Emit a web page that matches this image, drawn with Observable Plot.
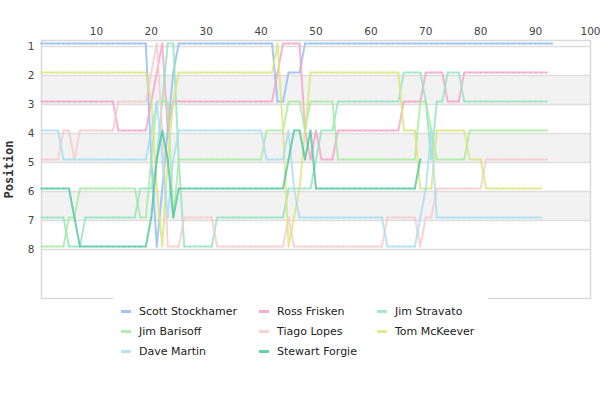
<!DOCTYPE html>
<html>
<head>
<meta charset="utf-8">
<script src="https://cdn.jsdelivr.net/npm/d3@7"></script>
<script src="https://cdn.jsdelivr.net/npm/@observablehq/plot@0.6"></script>
<style>
  body { margin: 0; background: #fff; font-family: "DejaVu Sans", sans-serif; }
  #chart { width: 600px; }
  .legend {
    position: relative; margin-top: -4px; margin-left: 113px; width: 375px;
    background: #fff; padding: 5px 0 4px 8px; box-sizing: border-box;
    display: grid; grid-template-columns: 138px 118px auto; grid-auto-rows: 20px;
    font-size: 11px; color: #222;
  }
  .legend .item { display: flex; align-items: center; white-space: nowrap; }
  .legend .sw { width: 10px; height: 3px; margin-right: 8px; opacity: 0.85; }
</style>
</head>
<body>
<div id="chart"></div>
<script>
const drivers = ["Scott Stockhamer", "Ross Frisken", "Jim Stravato", "Jim Barisoff", "Tiago Lopes", "Tom McKeever", "Dave Martin", "Stewart Forgie"];
const colors = ["#8fbbef", "#f2a2c8", "#92e4c2", "#a6eb9e", "#f8c9c9", "#dbe57c", "#a9ddf1", "#4fc69e"];

// Position per lap, starting at lap 0
const scott = [1,1,1,1,1,1,1,1,1,1, 1,1,1,1,1,1,1,1,1,1, 5,8,6,4,2, 1,1,1,1,1,1,1,1,1,1,1,1,1,1,1,1,1,1, 3,3,2,2,2,
  1,1,1,1,1,1,1,1,1,1, 1,1,1,1,1,1,1,1,1,1, 1,1,1,1,1,1,1,1,1,1, 1,1,1,1,1,1,1,1,1,1, 1,1,1,1,1,1];
const ross = [3,3,3,3,3,3,3,3,3,3,3,3,3,3, 4,4,4,4,4,4, 3,2,1,4,3, 3,3,3,3,3,3,3,3,3,3,3,3,3,3,3,3,3,3, 2, 1,1,1,1,
  4,5,4, 5,5,5, 4,4,4,4,4,4,4,4,4,4,4,4, 3,3,3,3, 2,2,2,2, 3,3,3, 2,2,2,2,2,2,2,2,2,2,2,2,2,2,2,2];
const stravato = [7,7,7,7,7, 8,8,8, 7,7,7,7,7,7,7,7,7,7, 6,6,6, 5,3,1,1,5, 8,8,8,8,8,8, 7,7,7,7,7,7,7,7,7,7,7,7,7,
  6,6,6,6,6, 5, 4,4,4, 3,3,3,3,3,3,3,3,3,3,3,3, 2,2,2,2, 3,5, 3,3, 2,2,2, 3,3,3,3,3,3,3,3,3,3,3,3,3,3,3,3];
const barisoff = [8,8,8,8,8, 7,7, 6,6,6,6,6,6,6,6,6,6,6, 7,7, 5, 3,3,3, 7, 5,5,5,5,5,5,5,5,5,5,5,5,5,5,5,5,
  4,4,4,4, 3,3,3, 4, 3,3,3,3,3, 5,5,5,5,5,5,5,5,5,5,5,5,5,5,5, 3,3, 4, 5,5,5,5,5,5, 4,4,4,4,4,4,4,4,4,4,4,4,4,4,4];
const tiago = [5,5,5,5, 4,4,5, 4,4,4,4,4,4,4, 3,3,3,3,3,3, 2,1,4, 8,8,8, 7,7,7,7,7,7, 8,8,8,8,8,8,8,8,8,8,8,8,8, 7,
  8,8,8,8,8,8,8,8,8,8,8,8,8,8,8,8,8, 7,7,7,7,7,7, 8, 7,7, 6,6,6,6,6,6,6,6,6, 5,5,5,5,5,5,5,5,5,5,5,5];
const tom = [2,2,2,2,2,2,2,2,2,2,2,2,2,2,2,2,2,2,2,2, 3,6,8,5,3, 2,2,2,2,2,2,2,2,2,2,2,2,2,2,2,2,2,2, 1,4,8,7,6,4,
  2,2,2,2,2,2,2,2,2,2,2,2,2,2,2,2,2, 4,4,4,6,6,6, 4,4,4,4,4,4, 5,5,5, 6,6,6,6,6,6,6,6,6,6,6];
const dave = [4,4,4,4, 5,5,5,5,5,5,5,5,5,5,5,5,5,5,5,5, 4,3,5,7,5, 4,4,4,4,4,4,4,4,4,4,4,4,4,4,4,4, 5,5,5,5, 4,6,
  7,7,7,7,7,7,7,7,7,7,7,7,7,7,7,7, 8,8,8,8,8,8, 7,6,4, 7,7,7,7,7,7,7,7,7,7,7,7,7,7,7,7,7,7,7,7];
const stewart = [6,6,6,6,6,6, 7, 8,8,8,8,8,8,8,8,8,8,8,8,8, 7,5,4,5,7, 6,6,6,6,6,6,6,6,6,6,6,6,6,6,6,6,6,6,6,6,
  5,4,4,5,4, 6,6,6,6,6,6,6,6,6,6,6,6,6,6,6,6,6,6,6, 5];

const series = [scott, ross, stravato, barisoff, tiago, tom, dave, stewart];
const positions = [1,2,3,4,5,6,7,8];
const shadedBands = [2,4,6];
const lapTicks = [10,20,30,40,50,60,70,80,90,100];

const rows = [];
series.forEach((s, i) => s.forEach((p, lap) => rows.push({driver: drivers[i], lap, pos: p})));

const chart = Plot.plot({
  width: 600,
  height: 300,
  marginLeft: 41,
  marginRight: 10,
  marginTop: 40,
  marginBottom: 2,
  style: {fontFamily: "DejaVu Sans", fontSize: "10.5px", color: "#444", background: "#fff"},
  x: {domain: [0, 100], axis: null},
  y: {domain: [0.79, 9.69], reverse: true, axis: null},
  color: {domain: drivers, range: colors},
  marks: [
    Plot.rect(shadedBands, {y1: d => d, y2: d => d + 1, fill: "#f2f2f2"}),
    Plot.ruleY(positions, {stroke: "#dedede", strokeWidth: 1.5}),
    Plot.frame({stroke: "#d9d9d9", strokeWidth: 1.5}),
    Plot.line(rows, {x: "lap", y: "pos", z: "driver", stroke: "driver", strokeWidth: 2, strokeOpacity: 0.8, dy: -3}),
    Plot.dot(rows, {x: "lap", y: "pos", fill: "driver", fillOpacity: 0.5, r: 1, dy: -3}),
    Plot.axisX(lapTicks, {anchor: "top", tickSize: 0, tickPadding: 6, fontSize: 10.5, label: null}),
    Plot.axisY(positions, {anchor: "left", tickSize: 0, tickPadding: 7, fontSize: 10.5, label: null}),
    Plot.text(["Position"], {frameAnchor: "left", textAnchor: "middle", rotate: -90, dx: -32, fontFamily: "DejaVu Sans Mono", fontWeight: "bold", fontSize: 12, fill: "#333"})
  ]
});

const container = document.getElementById("chart");
container.appendChild(chart);

const legend = document.createElement("div");
legend.className = "legend";
drivers.forEach((d, i) => {
  const item = document.createElement("div");
  item.className = "item";
  const sw = document.createElement("span");
  sw.className = "sw";
  sw.style.background = colors[i];
  const label = document.createElement("span");
  label.textContent = d;
  item.appendChild(sw);
  item.appendChild(label);
  legend.appendChild(item);
});
container.appendChild(legend);
</script>
</body>
</html>
